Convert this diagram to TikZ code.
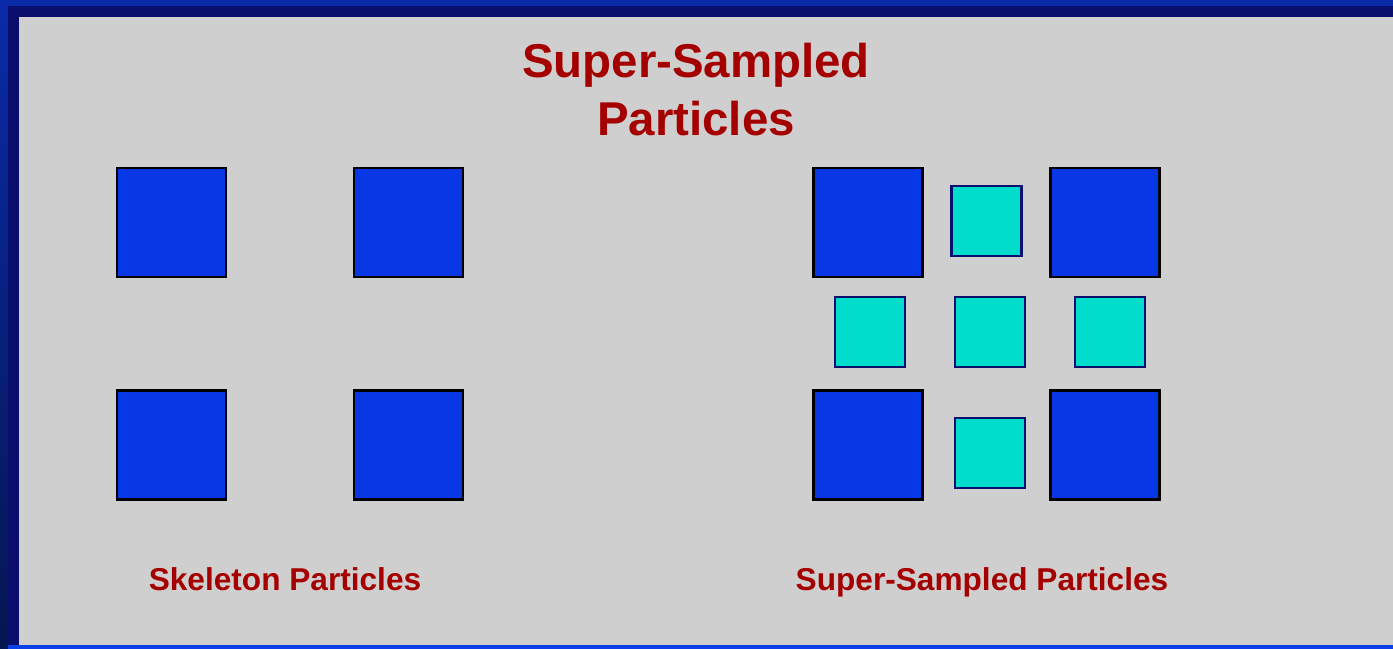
\documentclass[tikz,border=0pt]{standalone}
\usepackage{fontspec}
\setmainfont{Liberation Sans}
\usetikzlibrary{positioning}

\definecolor{frameblue}{HTML}{0A2AA8}
\definecolor{framedark}{HTML}{051650}
\definecolor{framenavy}{HTML}{0A0F6E}
\definecolor{slidegray}{HTML}{CFCFCF}
\definecolor{lineblue}{HTML}{0A40E8}
\definecolor{partblue}{HTML}{0838E6}
\definecolor{partcyan}{HTML}{00DDCC}
\definecolor{titlered}{HTML}{A50000}

\begin{document}
\begin{tikzpicture}[
    x=0.02cm, y=-0.02cm,
    skel/.style={draw=black, line width=1.4pt, fill=partblue,
                 minimum size=2.18cm, inner sep=0pt},
    super/.style={draw=framenavy, line width=1.4pt, fill=partcyan,
                  minimum size=1.4cm, inner sep=0pt},
    caption/.style={font=\bfseries\fontsize{18}{22}\selectfont, text=titlered,
                    anchor=base}
  ]
  \useasboundingbox (0,0) rectangle (1393,649);

  % Slide frame
  \fill[frameblue] (0,0) rectangle (1393,649);
  \shade[top color=frameblue, bottom color=framedark] (0,6) rectangle (8,649);
  \fill[framenavy] (8,6) rectangle (1393,649);
  \fill[slidegray] (19,17) rectangle (1393,645);
  \fill[lineblue] (8,645) rectangle (1393,649);

  % Title
  \node[font=\bfseries\fontsize{27}{33}\selectfont, text=titlered,
        align=center] (title) at (696,90) {Super-Sampled\\Particles};

  % Skeleton particles
  \node[skel] (a1) at (171.5,222.5) {};
  \node[skel] (a2) at (408.5,222.5) {};
  \node[skel] (a3) at (171.5,445) {};
  \node[skel] (a4) at (408.5,445) {};

  % Super-sampled particles
  \node[skel] (b1) at (868,222.5) {};
  \node[skel] (b2) at (1105,222.5) {};
  \node[skel] (b3) at (868,445) {};
  \node[skel] (b4) at (1105,445) {};

  \node[super] (c1) at (986.5,221) {};
  \node[super] (c2) at (870,332) {};
  \node[super] (c3) at (990,332) {};
  \node[super] (c4) at (1110,332) {};
  \node[super] (c5) at (990,453) {};

  % Labels
  \node[caption] (lskel) at (285,590) {Skeleton Particles};
  \node[caption] (lsuper) at (982,590) {Super-Sampled Particles};
\end{tikzpicture}
\end{document}
